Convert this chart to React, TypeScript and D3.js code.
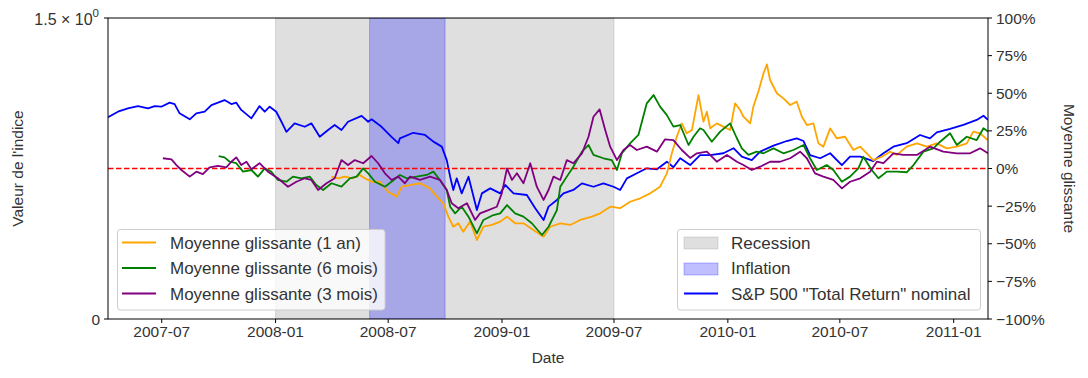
import React from "react";
import * as d3 from "d3";

// [decimal year, index value]
const sp500: [number, number][] = [
  [2007.258,1.005],[2007.302,1.033],[2007.346,1.050],[2007.391,1.061],[2007.435,1.050],[2007.465,1.061],[2007.494,1.058],[2007.531,1.078],[2007.553,1.071],[2007.575,1.025],[2007.620,0.995],[2007.649,1.025],[2007.686,1.033],[2007.716,1.066],[2007.745,1.078],[2007.774,1.091],[2007.804,1.071],[2007.826,1.078],[2007.848,1.042],[2007.893,1.000],[2007.929,1.061],[2007.952,1.033],[2007.974,1.058],[2008.003,1.033],[2008.026,0.983],[2008.048,0.933],[2008.084,0.975],[2008.129,0.958],[2008.158,0.975],[2008.195,0.908],[2008.232,0.942],[2008.261,0.967],[2008.291,0.942],[2008.320,0.983],[2008.380,1.012],[2008.409,0.983],[2008.424,0.995],[2008.468,0.958],[2008.512,0.908],[2008.542,0.876],[2008.549,0.900],[2008.608,0.928],[2008.660,0.917],[2008.697,0.884],[2008.734,0.859],[2008.756,0.792],[2008.771,0.709],[2008.785,0.643],[2008.800,0.701],[2008.822,0.626],[2008.852,0.709],[2008.889,0.543],[2008.911,0.626],[2008.948,0.651],[2008.992,0.626],[2009.014,0.668],[2009.051,0.626],[2009.110,0.618],[2009.147,0.552],[2009.184,0.493],[2009.206,0.560],[2009.243,0.593],[2009.272,0.626],[2009.316,0.643],[2009.354,0.676],[2009.405,0.659],[2009.449,0.676],[2009.494,0.659],[2009.523,0.643],[2009.553,0.701],[2009.597,0.726],[2009.641,0.751],[2009.686,0.746],[2009.730,0.784],[2009.759,0.756],[2009.789,0.801],[2009.833,0.767],[2009.877,0.817],[2009.922,0.817],[2009.980,0.826],[2010.025,0.851],[2010.062,0.809],[2010.106,0.792],[2010.143,0.834],[2010.202,0.864],[2010.261,0.887],[2010.305,0.900],[2010.335,0.887],[2010.364,0.817],[2010.409,0.801],[2010.453,0.826],[2010.505,0.767],[2010.541,0.809],[2010.586,0.809],[2010.644,0.787],[2010.689,0.826],[2010.733,0.859],[2010.792,0.876],[2010.851,0.917],[2010.895,0.900],[2010.925,0.930],[2010.984,0.947],[2011.043,0.967],[2011.102,0.992],[2011.132,1.013],[2011.152,0.992]
];

// [decimal year, % change]
const ma1y: [number, number][] = [
  [2008.247,-5.4],[2008.276,-6.5],[2008.306,-5.4],[2008.342,-6.5],[2008.372,-4.3],[2008.394,-6.5],[2008.424,-8.8],[2008.461,-8.8],[2008.497,-15.4],[2008.535,-18.7],[2008.557,-12.1],[2008.594,-11.0],[2008.638,-9.8],[2008.682,-13.2],[2008.712,-18.7],[2008.741,-23.1],[2008.763,-32.0],[2008.785,-38.7],[2008.807,-36.4],[2008.829,-42.0],[2008.859,-35.3],[2008.889,-47.5],[2008.918,-38.7],[2008.955,-37.5],[2008.992,-35.3],[2009.022,-32.0],[2009.058,-36.4],[2009.095,-36.4],[2009.139,-40.9],[2009.184,-45.3],[2009.213,-38.7],[2009.258,-36.4],[2009.302,-37.5],[2009.346,-34.2],[2009.398,-32.0],[2009.435,-29.8],[2009.479,-25.4],[2009.523,-26.4],[2009.567,-22.1],[2009.612,-19.8],[2009.656,-16.5],[2009.700,-12.1],[2009.730,-3.2],[2009.752,10.1],[2009.774,21.1],[2009.796,30.0],[2009.818,23.4],[2009.841,25.6],[2009.870,48.8],[2009.892,31.1],[2009.907,37.7],[2009.922,26.7],[2009.951,30.0],[2009.980,27.8],[2010.010,25.6],[2010.032,43.3],[2010.054,38.9],[2010.069,34.4],[2010.099,30.0],[2010.113,41.1],[2010.135,51.0],[2010.158,63.3],[2010.173,69.2],[2010.187,58.8],[2010.217,50.0],[2010.246,46.6],[2010.276,42.2],[2010.305,44.4],[2010.328,34.4],[2010.350,28.9],[2010.379,30.0],[2010.401,16.7],[2010.423,14.5],[2010.453,26.7],[2010.482,20.1],[2010.519,21.1],[2010.556,12.3],[2010.586,14.5],[2010.615,10.1],[2010.644,5.6],[2010.682,7.8],[2010.718,11.2],[2010.748,9.0],[2010.792,14.5],[2010.837,16.7],[2010.881,14.5],[2010.925,16.7],[2010.969,13.4],[2011.014,14.5],[2011.058,16.7],[2011.087,24.5],[2011.117,23.4],[2011.150,18.9]
];

const ma6m: [number, number][] = [
  [2007.748,8.3],[2007.774,7.4],[2007.797,4.5],[2007.826,3.5],[2007.856,-2.1],[2007.893,-1.0],[2007.922,-5.4],[2007.952,0.1],[2007.981,-2.1],[2008.010,-7.6],[2008.048,-8.8],[2008.077,-5.4],[2008.114,-6.5],[2008.151,-5.4],[2008.180,-11.0],[2008.210,-14.3],[2008.247,-9.8],[2008.291,-12.1],[2008.328,-6.5],[2008.358,-5.4],[2008.387,0.1],[2008.409,-3.2],[2008.439,-8.8],[2008.483,-12.1],[2008.512,-8.8],[2008.549,-4.3],[2008.579,-6.5],[2008.623,-5.4],[2008.667,-4.3],[2008.697,-2.1],[2008.726,-7.6],[2008.756,-14.3],[2008.771,-25.4],[2008.793,-29.8],[2008.822,-25.4],[2008.852,-32.0],[2008.889,-43.1],[2008.918,-34.2],[2008.962,-30.9],[2008.992,-29.8],[2009.022,-24.3],[2009.058,-29.8],[2009.095,-32.0],[2009.132,-36.4],[2009.177,-44.2],[2009.206,-38.7],[2009.243,-27.6],[2009.258,-12.1],[2009.287,-5.4],[2009.316,1.2],[2009.354,11.2],[2009.383,15.6],[2009.405,9.0],[2009.449,6.8],[2009.486,5.6],[2009.509,-1.0],[2009.531,10.1],[2009.567,16.7],[2009.604,22.3],[2009.641,43.3],[2009.671,48.8],[2009.700,41.1],[2009.730,35.5],[2009.759,27.8],[2009.789,28.9],[2009.826,15.6],[2009.848,21.1],[2009.877,26.7],[2009.892,25.6],[2009.929,17.8],[2009.966,24.5],[2010.010,30.0],[2010.040,20.1],[2010.062,13.4],[2010.091,9.0],[2010.128,11.2],[2010.158,10.1],[2010.202,13.4],[2010.246,10.1],[2010.290,12.3],[2010.335,15.6],[2010.364,6.8],[2010.394,-1.0],[2010.438,2.3],[2010.467,-1.0],[2010.505,-8.8],[2010.541,-5.4],[2010.578,0.1],[2010.600,7.8],[2010.637,-1.0],[2010.667,-6.5],[2010.704,-2.1],[2010.748,-2.1],[2010.792,-2.5],[2010.822,2.3],[2010.866,11.2],[2010.910,13.4],[2010.940,17.8],[2010.984,23.4],[2011.014,15.6],[2011.058,21.1],[2011.102,18.9],[2011.132,26.7],[2011.152,24.5]
];

const ma3m: [number, number][] = [
  [2007.501,6.8],[2007.539,6.1],[2007.561,2.3],[2007.583,-1.0],[2007.620,-5.4],[2007.649,-2.1],[2007.678,-3.7],[2007.708,0.8],[2007.745,1.7],[2007.782,0.8],[2007.804,4.5],[2007.826,7.4],[2007.848,2.3],[2007.871,4.5],[2007.893,-0.5],[2007.929,3.5],[2007.966,-2.1],[2008.010,-6.5],[2008.055,-12.1],[2008.092,-8.8],[2008.129,-6.5],[2008.158,-7.6],[2008.188,-14.3],[2008.225,-9.8],[2008.261,-6.5],[2008.291,5.6],[2008.320,2.3],[2008.350,5.6],[2008.387,3.5],[2008.424,8.3],[2008.453,3.5],[2008.483,-3.2],[2008.512,-7.6],[2008.542,-5.4],[2008.571,-9.8],[2008.594,-5.4],[2008.638,-7.6],[2008.682,-5.4],[2008.726,-7.6],[2008.756,-14.3],[2008.778,-23.1],[2008.807,-26.4],[2008.845,-23.1],[2008.881,-34.2],[2008.903,-29.8],[2008.940,-27.6],[2008.977,-25.4],[2008.999,-16.5],[2009.022,0.1],[2009.044,-7.6],[2009.066,-3.2],[2009.095,-9.8],[2009.125,3.5],[2009.154,-12.1],[2009.184,-20.9],[2009.206,-14.3],[2009.228,-5.4],[2009.258,-7.6],[2009.287,5.6],[2009.316,3.5],[2009.354,10.1],[2009.383,21.1],[2009.405,34.4],[2009.432,39.3],[2009.457,25.6],[2009.479,14.5],[2009.509,5.6],[2009.538,12.3],[2009.567,15.6],[2009.597,12.3],[2009.641,14.5],[2009.686,11.2],[2009.722,19.4],[2009.759,18.9],[2009.796,12.3],[2009.833,7.0],[2009.863,10.1],[2009.907,11.2],[2009.951,4.5],[2009.996,9.0],[2010.040,4.5],[2010.069,2.3],[2010.106,-1.0],[2010.143,1.2],[2010.187,4.5],[2010.231,4.5],[2010.276,6.8],[2010.320,11.2],[2010.350,6.8],[2010.386,-3.2],[2010.423,-5.4],[2010.467,-7.6],[2010.505,-13.2],[2010.541,-8.8],[2010.586,-6.5],[2010.630,-2.1],[2010.660,4.5],[2010.689,3.5],[2010.733,10.1],[2010.777,9.0],[2010.837,9.0],[2010.895,14.5],[2010.954,11.2],[2011.014,10.1],[2011.073,10.1],[2011.117,13.4],[2011.152,10.1]
];

const xTickLabels = ["2007-07", "2008-01", "2008-07", "2009-01", "2009-07", "2010-01", "2010-07", "2011-01"];
const rightTicks = [100, 75, 50, 25, 0, -25, -50, -75, -100];
const recessionPeriod = ["2008-01-01", "2009-07-01"];
const inflationPeriod = ["2008-06-01", "2008-10-01"];

function yearToDate(t: number): Date {
  const y = Math.floor(t);
  const s = Date.UTC(y, 0, 1);
  const e = Date.UTC(y + 1, 0, 1);
  return new Date(s + (t - y) * (e - s));
}
const parse = d3.utcParse("%Y-%m-%d");
const parseM = d3.utcParse("%Y-%m");

const FONT = "'Liberation Sans', Arial, sans-serif";
const TXT = "#333";
const LW = 1.8;
const LEG_FS = 17;

export default function App() {
  const W = 1088, H = 378;
  const L = 108, R = 988, T = 18, B = 319;
  const dom = d3.extent(sp500, (d) => yearToDate(d[0])) as [Date, Date];
  const x = d3.scaleUtc().domain(dom).range([L, R]);
  const yL = d3.scaleLinear().domain([0, 1.5]).range([B, T]);
  const yR = d3.scaleLinear().domain([-100, 100]).range([B, T]);

  const lineL = d3.line<[number, number]>().x((d) => x(yearToDate(d[0]))).y((d) => yL(d[1]));
  const lineR = d3.line<[number, number]>().x((d) => x(yearToDate(d[0]))).y((d) => yR(d[1]));

  const rx0 = x(parse(recessionPeriod[0])!), rx1 = x(parse(recessionPeriod[1])!);
  const ix0 = x(parse(inflationPeriod[0])!), ix1 = x(parse(inflationPeriod[1])!);

  const legend1 = [
    { label: "Moyenne glissante (1 an)", color: "orange" },
    { label: "Moyenne glissante (6 mois)", color: "green" },
    { label: "Moyenne glissante (3 mois)", color: "purple" },
  ];

  return (
    <svg width={W} height={H} style={{ position: "absolute", left: 0, top: 0, background: "#fff" }} fontFamily={FONT}>
      <defs>
        <clipPath id="plot"><rect x={L} y={T} width={R - L} height={B - T} /></clipPath>
      </defs>
      <g clipPath="url(#plot)">
        <rect x={rx0} y={T} width={rx1 - rx0} height={B - T} fill="gray" fillOpacity={0.25} stroke="gray" strokeOpacity={0.25} />
        <rect x={ix0} y={T} width={ix1 - ix0} height={B - T} fill="blue" fillOpacity={0.25} stroke="blue" strokeOpacity={0.25} />
        <path d={lineL(sp500)!} fill="none" stroke="blue" strokeWidth={LW} strokeLinejoin="round" />
        <line x1={L} x2={R} y1={yR(0)} y2={yR(0)} stroke="red" strokeWidth={1.6} strokeDasharray="5.5,2.5" />
        <path d={lineR(ma1y)!} fill="none" stroke="orange" strokeWidth={LW} strokeLinejoin="round" />
        <path d={lineR(ma6m)!} fill="none" stroke="green" strokeWidth={LW} strokeLinejoin="round" />
        <path d={lineR(ma3m)!} fill="none" stroke="purple" strokeWidth={LW} strokeLinejoin="round" />
      </g>

      {/* Legend 2 (ax1) */}
      <g>
        <rect x={677.5} y={229.5} width={303} height={80.5} rx={3} fill="#fff" fillOpacity={0.8} stroke="#ccc" />
        <rect x={684} y={237} width={34} height={12} fill="gray" fillOpacity={0.25} stroke="gray" strokeOpacity={0.25} />
        <text x={731} y={243} dominantBaseline="central" fontSize={LEG_FS} fill={TXT}>Recession</text>
        <rect x={684} y={263} width={34} height={12} fill="blue" fillOpacity={0.25} stroke="blue" strokeOpacity={0.25} />
        <text x={731} y={268.5} dominantBaseline="central" fontSize={LEG_FS} fill={TXT}>Inflation</text>
        <line x1={684} x2={718} y1={293.5} y2={293.5} stroke="blue" strokeWidth={LW} />
        <text x={731} y={294} dominantBaseline="central" fontSize={LEG_FS} fill={TXT}>S&amp;P 500 "Total Return" nominal</text>
      </g>

      {/* Legend 1 (ax2) */}
      <g>
        <rect x={117.5} y={229.5} width={267.5} height={80.5} rx={3} fill="#fff" fillOpacity={0.8} stroke="#ccc" />
        {legend1.map((d, i) => (
          <g key={d.label}>
            <line x1={122} x2={156} y1={242.5 + i * 25.5} y2={242.5 + i * 25.5} stroke={d.color} strokeWidth={LW} />
            <text x={170} y={243 + i * 25.5} dominantBaseline="central" fontSize={LEG_FS} fill={TXT}>{d.label}</text>
          </g>
        ))}
      </g>

      {/* frame */}
      <rect x={L} y={T} width={R - L} height={B - T} fill="none" stroke="#000" strokeWidth={1} />

      {/* x axis */}
      {xTickLabels.map((lab) => {
        const px = x(parseM(lab)!);
        return (
          <g key={lab}>
            <line x1={px} x2={px} y1={B} y2={B + 4} stroke="#000" />
            <text x={px} y={331} textAnchor="middle" dominantBaseline="central" fontSize={15.5} fill={TXT}>{lab}</text>
          </g>
        );
      })}
      <text x={(L + R) / 2} y={357} textAnchor="middle" dominantBaseline="central" fontSize={15.5} fill={TXT}>Date</text>

      {/* left axis */}
      <line x1={L - 4} x2={L} y1={yL(1.5)} y2={yL(1.5)} stroke="#000" />
      <line x1={L - 4} x2={L} y1={yL(0)} y2={yL(0)} stroke="#000" />
      <text x={99} y={yL(1.5) + 1} textAnchor="end" dominantBaseline="central" fontSize={16} fill={TXT}>
        1.5 × 10<tspan dy={-6} fontSize={11.5}>0</tspan>
      </text>
      <text x={100} y={yL(0)} textAnchor="end" dominantBaseline="central" fontSize={15.5} fill={TXT}>0</text>
      <text transform={`translate(17,${(T + B) / 2}) rotate(-90)`} textAnchor="middle" dominantBaseline="central" fontSize={15.5} fill={TXT}>Valeur de l'indice</text>

      {/* right axis */}
      {rightTicks.map((v) => (
        <g key={v}>
          <line x1={R} x2={R + 4} y1={yR(v)} y2={yR(v)} stroke="#000" />
          <text x={996} y={yR(v)} dominantBaseline="central" fontSize={15.5} fill={TXT}>{v < 0 ? `\u2212${-v}%` : `${v}%`}</text>
        </g>
      ))}
      <text transform={`translate(1069,${(T + B) / 2}) rotate(90)`} textAnchor="middle" dominantBaseline="central" fontSize={15.5} fill={TXT}>Moyenne glissante</text>
    </svg>
  );
}
